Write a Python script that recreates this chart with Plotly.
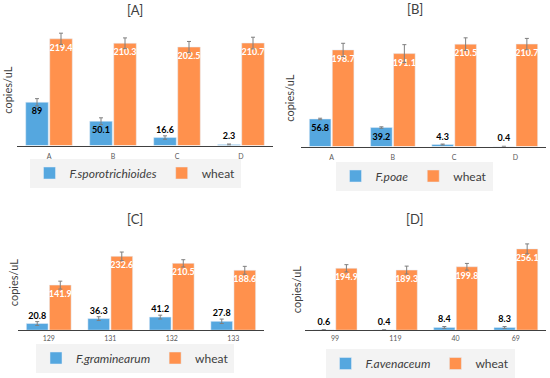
import plotly.graph_objects as go

W, H = 550, 378
def fx(p): return p / W
def fy(p): return 1 - p / H

# ---- data ----
cats_A = ["A", "B", "C", "D"]
fspo = [89, 50.1, 16.6, 2.3]
fspo_err = [7.5, 7, 3.5, 1]
wheat_A = [219.4, 210.3, 202.5, 210.7]
wheat_A_err = [11.6, 11, 11.5, 12]

cats_B = ["A", "B", "C", "D"]
fpoae = [56.8, 39.2, 4.3, 0.4]
fpoae_err = [1.5, 1.5, 1, 0.3]
wheat_B = [198.7, 191.1, 210.5, 210.7]
wheat_B_err = [13.6, 18.4, 13, 11.6]

cats_C = ["129", "131", "132", "133"]
fgram = [20.8, 36.3, 41.2, 27.8]
fgram_err = [6, 6, 6, 7]
wheat_C = [141.9, 232.6, 210.5, 188.6]
wheat_C_err = [12.5, 13.6, 11.5, 12.5]

cats_D = ["99", "119", "40", "69"]
faven = [0.6, 0.4, 8.4, 8.3]
faven_err = [0.3, 0.3, 3, 3]
wheat_D = [194.9, 189.3, 199.8, 256.1]
wheat_D_err = [11.5, 12.5, 10.5, 15.7]

BLUE = "#55A7DF"
ORANGE = "#FF914D"
FONT = "Lato"

panels = [
    dict(cats=cats_A, f=fspo, fe=fspo_err, w=wheat_A, we=wheat_A_err,
         name="<i>F.sporotrichioides</i>", title="[A]",
         fpos=["inside", "inside", "outside", "outside"],
         xd=[17, 273], yd=[146, 24], rng=[0, 250], so=4,
         tpos=(135, 10), ylab=(8, 90), leg=(135, 173)),
    dict(cats=cats_B, f=fpoae, fe=fpoae_err, w=wheat_B, we=wheat_B_err,
         name="<i>F.poae</i>", title="[B]",
         fpos=["inside", "inside", "outside", "outside"],
         xd=[301, 546], yd=[147, 25], rng=[0, 250], so=4,
         tpos=(415, 9), ylab=(290, 98), leg=(414, 176)),
    dict(cats=cats_C, f=fgram, fe=fgram_err, w=wheat_C, we=wheat_C_err,
         name="<i>F.graminearum</i>", title="[C]",
         fpos=["outside"] * 4,
         xd=[18, 264], yd=[331, 235.6], rng=[0, 300], so=1,
         tpos=(135, 220), ylab=(13, 283), leg=(135, 358)),
    dict(cats=cats_D, f=faven, fe=faven_err, w=wheat_D, we=wheat_D_err,
         name="<i>F.avenaceum</i>", title="[D]",
         fpos=["outside"] * 4,
         xd=[305, 546], yd=[331, 235.6], rng=[0, 300], so=1,
         tpos=(415, 220), ylab=(296, 290), leg=(420, 364)),
]

fig = go.Figure()
annotations = []
layout = {}
for i, p in enumerate(panels, start=1):
    sx = "" if i == 1 else str(i)
    leg = "legend" if i == 1 else f"legend{i}"
    err_style = dict(type="data", color="#7F7F7F", thickness=1, width=2, visible=True)
    fig.add_trace(go.Bar(
        x=p["cats"], y=p["f"], name=p["name"], marker_color=BLUE,
        error_y=dict(array=p["fe"], **err_style),
        text=[str(v) for v in p["f"]], textposition=p["fpos"],
        insidetextanchor="end", textangle=0,
        textfont=dict(color="black", size=9, family=FONT, weight="bold"),
        cliponaxis=False, xaxis="x" + sx, yaxis="y" + sx, legend=leg,
    ))
    fig.add_trace(go.Bar(
        x=p["cats"], y=p["w"], name="wheat", marker_color=ORANGE,
        error_y=dict(array=p["we"], **err_style),
        text=[str(v) for v in p["w"]], textposition="inside",
        insidetextanchor="end", textangle=0,
        textfont=dict(color="white", size=9, family=FONT, weight="bold"),
        cliponaxis=False, xaxis="x" + sx, yaxis="y" + sx, legend=leg,
    ))
    layout["xaxis" + sx] = dict(
        domain=[fx(p["xd"][0]), fx(p["xd"][1])], anchor="y" + sx,
        showline=True, linecolor="#404040", linewidth=1.3,
        ticks="", showgrid=False, ticklabelstandoff=p["so"],
        tickfont=dict(size=7, color="#595959", family=FONT),
        fixedrange=True,
    )
    layout["yaxis" + sx] = dict(
        domain=[fy(p["yd"][0]), fy(p["yd"][1])], anchor="x" + sx,
        range=p["rng"], showticklabels=False, showgrid=False,
        zeroline=False, showline=False, ticks="", fixedrange=True,
    )
    layout[leg] = dict(
        orientation="h", x=fx(p["leg"][0]), y=fy(p["leg"][1]),
        xanchor="center", yanchor="middle", bgcolor="#F3F3F3",
        font=dict(size=12, color="#404040", family=FONT),
        itemclick=False, itemdoubleclick=False,
    )
    annotations.append(dict(
        text=p["title"], x=fx(p["tpos"][0]), y=fy(p["tpos"][1]),
        xref="paper", yref="paper", showarrow=False,
        font=dict(size=13, color="#404040", family=FONT),
        xanchor="center", yanchor="middle",
    ))
    annotations.append(dict(
        text="copies/uL", x=fx(p["ylab"][0]), y=fy(p["ylab"][1]),
        xref="paper", yref="paper", showarrow=False, textangle=-90,
        font=dict(size=11, color="#404040", family=FONT),
        xanchor="center", yanchor="middle",
    ))

fig.update_layout(
    width=W, height=H, margin=dict(l=0, r=0, t=0, b=0),
    paper_bgcolor="white", plot_bgcolor="white",
    barmode="group", bargap=0.25, bargroupgap=0.06,
    uniformtext=dict(minsize=9, mode="show"),
    annotations=annotations, showlegend=True,
    font=dict(family=FONT),
    **layout,
)
fig.write_html("out.html", config={"displayModeBar": False},
               post_script="document.body.style.margin='0';document.body.style.padding='0';")
